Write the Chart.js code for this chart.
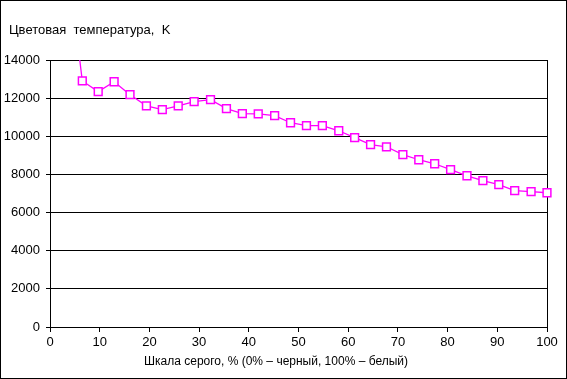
<!DOCTYPE html>
<html>
<head>
<meta charset="utf-8">
<script src="https://cdn.jsdelivr.net/npm/chart.js@4"></script>
<style>
  html, body { margin: 0; padding: 0; background: #fff; }
</style>
</head>
<body>
<canvas id="chart" width="567" height="379"></canvas>
<script>
// gray scale level, % (0 = black, 100 = white)
const grayLevels = [3.2, 6.5, 9.7, 12.9, 16.1, 19.4, 22.6, 25.8, 29.0, 32.3,
    35.5, 38.7, 41.9, 45.2, 48.4, 51.6, 54.8, 58.1, 61.3, 64.5,
    67.7, 71.0, 74.2, 77.4, 80.6, 83.9, 87.1, 90.3, 93.5, 96.8, 100];
// colour temperature, K
const colorTemps = [20000, 12900, 12340, 12860, 12180, 11600, 11400, 11600, 11820, 11920,
    11450, 11190, 11180, 11080, 10710, 10560, 10560, 10290, 9930, 9560,
    9450, 9040, 8770, 8560, 8250, 7930, 7670, 7460, 7150, 7100, 7040];

const yTitle = 'Цветовая  температура,  K';
const xTitle = 'Шкала серого, % (0% – черный, 100% – белый)';

const font = { family: '"Liberation Sans", Arial, sans-serif', size: 13 };

// outer frame and both axis titles, placed the way the original has them
const frame = {
    id: 'frame',
    afterDraw(chart) {
        const c = chart.ctx;
        c.save();
        c.strokeStyle = '#000';
        c.lineWidth = 1;
        c.strokeRect(0.5, 0.5, chart.width - 1, chart.height - 1);
        c.fillStyle = '#000';
        c.textBaseline = 'middle';
        c.font = '13px "Liberation Sans", Arial, sans-serif';
        c.fillText(yTitle, 9, 30);
        c.font = '12px "Liberation Sans", Arial, sans-serif';
        c.textAlign = 'center';
        c.fillText(xTitle, 276, 362);
        c.restore();
    }
};

const ctx = document.querySelector('#chart').getContext('2d');
const chart = new Chart(ctx, {
    type: 'line',
    data: {
        datasets: [{
            data: grayLevels.map((x, i) => ({ x: x, y: colorTemps[i] })),
            borderColor: '#ff00ff',
            borderWidth: 1.3,
            backgroundColor: '#fff',
            pointStyle: 'rect',
            pointRadius: 5.5,
            pointBorderWidth: 1.5,
            pointBorderColor: '#ff00ff',
            pointBackgroundColor: '#fff',
            tension: 0,
            clip: { left: 10, right: 10, top: 0, bottom: 10 }
        }]
    },
    options: {
        responsive: false,
        animation: false,
        layout: { padding: { left: 0, right: 20, top: 60, bottom: 0 } },
        plugins: {
            legend: { display: false },
            tooltip: { enabled: false }
        },
        scales: {
            x: {
                type: 'linear',
                min: 0,
                max: 100,
                afterFit: s => { s.height = 52; },
                ticks: { stepSize: 10, color: '#000', font: font, padding: 3, maxRotation: 0 },
                grid: {
                    color: c => c.tick && c.tick.value === 100 ? '#000' : 'rgba(0,0,0,0)',
                    tickColor: '#000',
                    tickLength: 5,
                    lineWidth: 1
                },
                border: { color: '#000', width: 1 }
            },
            y: {
                min: 0,
                max: 14000,
                afterFit: s => { s.width = 50; },
                ticks: { stepSize: 2000, color: '#000', font: font, padding: 6, callback: v => String(v) },
                grid: { color: '#000', tickColor: '#000', tickLength: 4, lineWidth: 1 },
                border: { color: '#000', width: 1 }
            }
        }
    },
    plugins: [frame]
});
</script>
</body>
</html>
